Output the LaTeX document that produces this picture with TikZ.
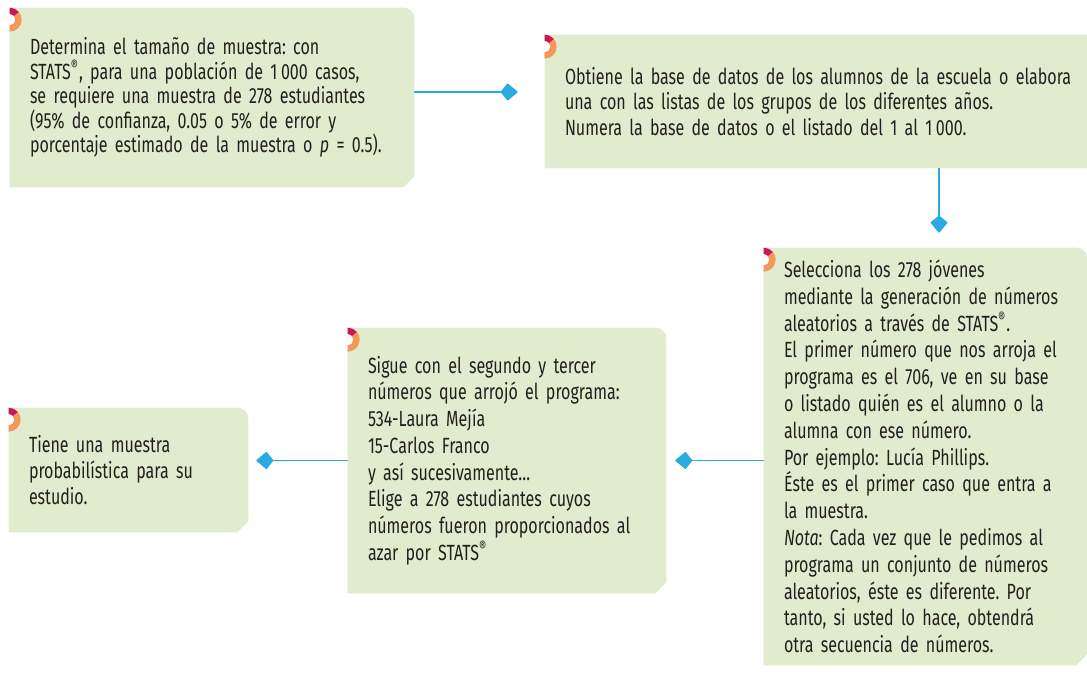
\documentclass[tikz,border=0pt]{standalone}
\usepackage{fontspec}
\setmainfont{Fira Sans}[FakeStretch=0.73]
\usetikzlibrary{
  arrows.meta,
  backgrounds
}
\definecolor{verdecaja}{RGB}{225,235,205}
\definecolor{azulflecha}{RGB}{41,171,226}
\definecolor{naranja}{RGB}{246,150,90}
\definecolor{fucsia}{RGB}{200,24,90}
\definecolor{texto}{RGB}{35,31,32}

\hyphenpenalty=10000
\exhyphenpenalty=10000
\frenchspacing

\tikzset{
  caja/.style={rectangle, inner xsep=0.4cm, inner ysep=0pt, align=left, text=texto,
    font=\fontsize{12.5pt}{15.2pt}\selectfont},
  flecha/.style={azulflecha, line width=0.85pt,
    -{Kite[length=10pt,width=10pt,inset=4pt,round]}}
}

\newcommand{\fondo}[1]{%
  \fill[verdecaja] (#1.south west) -- (#1.north west) -- ([xshift=-0.22cm]#1.north east)
    arc[start angle=90, end angle=0, radius=0.22cm] -- ([yshift=0.22cm]#1.south east)
    -- ([xshift=-0.22cm]#1.south east) -- cycle;
  \begin{scope}[shift={(#1.north west)}]
    \fill[naranja] (0,-0.48) arc[start angle=-90, end angle=40, radius=0.24]
      -- ([shift={(40:0.11)}]0,-0.24) arc[start angle=40, end angle=-90, radius=0.11] -- cycle;
    \fill[fucsia] ([shift={(40:0.24)}]0,-0.24) arc[start angle=40, end angle=90, radius=0.24]
      -- (0,-0.13) arc[start angle=90, end angle=40, radius=0.11] -- cycle;
    \fill[white] (0,-0.13) arc[start angle=90, end angle=-90, radius=0.11] -- cycle;
  \end{scope}}

\begin{document}
\begin{tikzpicture}
  \useasboundingbox (0,0) rectangle (21.74,-13.46);
  \node[caja, text width=7.28cm, minimum width=8.08cm, minimum height=3.58cm,
    font=\fontsize{12.5pt}{13.95pt}\selectfont] (tamano) at (4.24,-1.95)
    {Determina el tamaño de muestra: con\\
     STATS\textsuperscript{®}, para una población de 1\,000 casos,\\
     se requiere una muestra de 278 estudiantes\\
     (95\% de confianza, 0.05 o 5\% de error y\\
     porcentaje estimado de la muestra o \textit{p} = 0.5).};
  \node[caja, text width=10.3cm, minimum width=11.1cm, minimum height=2.66cm,
    font=\fontsize{12.5pt}{14.75pt}\selectfont] (base) at (16.45,-2.03)
    {Obtiene la base de datos de los alumnos de la escuela o elabora\\
     una con las listas de los grupos de los diferentes años.\\
     Numera la base de datos o el listado del 1 al 1\,000.};
  \node[caja, text width=5.66cm, minimum width=6.46cm, minimum height=8.34cm,
    font=\fontsize{12.5pt}{15.25pt}\selectfont] (seleccion) at (18.51,-9.13)
    {Selecciona los 278 jóvenes\\
     mediante la generación de números\\
     aleatorios a través de STATS\textsuperscript{®}.\\
     El primer número que nos arroja el\\
     programa es el 706, ve en su base\\
     o listado quién es el alumno o la\\
     alumna con ese número.\\
     Por ejemplo: Lucía Phillips.\\
     Éste es el primer caso que entra a\\
     la muestra.\\
     \textit{Nota}: Cada vez que le pedimos al\\
     programa un conjunto de números\\
     aleatorios, éste es diferente. Por\\
     tanto, si usted lo hace, obtendrá\\
     otra secuencia de números.};
  \node[caja, text width=5.56cm, minimum width=6.36cm, minimum height=5.3cm] (sigue) at (10.14,-9.21)
    {Sigue con el segundo y tercer\\
     números que arrojó el programa:\\
     534-Laura Mejía\\
     15-Carlos Franco\\
     y así sucesivamente\dots\\
     Elige a 278 estudiantes cuyos\\
     números fueron proporcionados al\\
     azar por STATS\textsuperscript{®}};
  \node[caja, text width=3.98cm, minimum width=4.78cm, minimum height=2.48cm,
    font=\fontsize{12.5pt}{14.6pt}\selectfont] (tiene) at (2.57,-9.40)
    {Tiene una muestra\\
     probabilística para su\\
     estudio.};
  \begin{scope}[on background layer]
    \fondo{tamano}
    \fondo{base}
    \fondo{seleccion}
    \fondo{sigue}
    \fondo{tiene}
  \end{scope}
  \draw[flecha, shorten >=0.54cm] ([yshift=0.11cm]tamano.east) -- ([yshift=0.11cm]tamano.east -| base.west);
  \draw[flecha, shorten >=0.3cm] ([xshift=0.27cm]seleccion.north |- base.south) -- ([xshift=0.27cm]seleccion.north);
  \draw[flecha, shorten >=0.18cm] (seleccion.west |- sigue.east) -- (sigue.east);
  \draw[flecha, shorten >=0.16cm] (sigue.west) -- (sigue.west -| tiene.east);
\end{tikzpicture}
\end{document}
